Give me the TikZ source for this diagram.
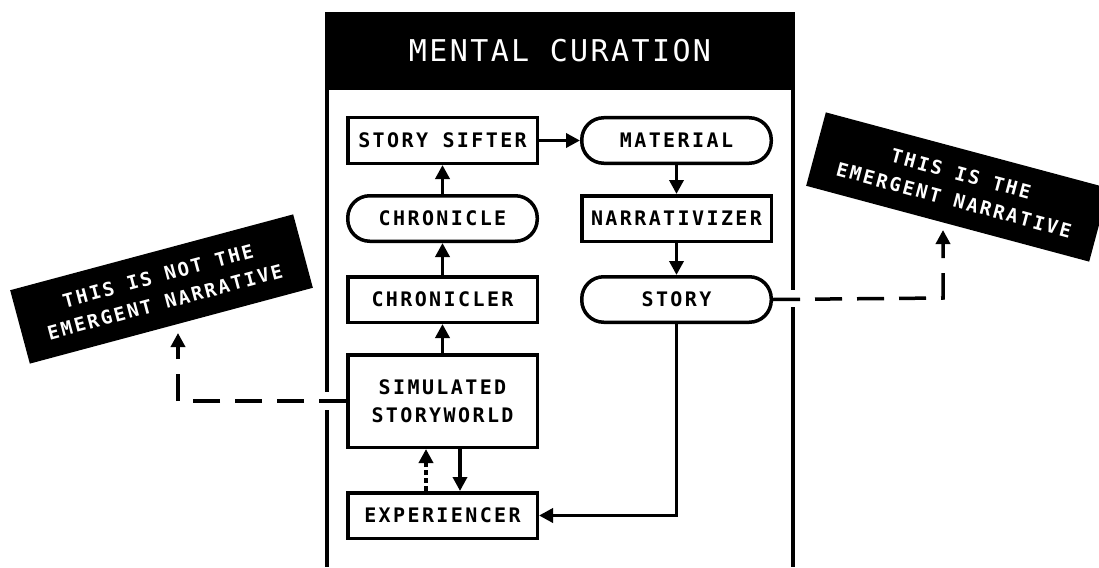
\documentclass[tikz,border=0pt]{standalone}
\usepackage{fontspec}
\usepackage{tikz}
\usetikzlibrary{positioning,arrows.meta}
\newfontfamily\boxfont[LetterSpace=12]{DejaVu Sans Mono Bold}
\newfontfamily\titlefont[LetterSpace=8]{DejaVu Sans Mono}

\begin{document}
\begin{tikzpicture} [x=1pt, y=-1pt,
	stage/.style={draw=black, line width=3.5pt, minimum width=189.5pt, minimum height=45.5pt, inner sep=0pt, align=center, font=\boxfont\fontsize{20}{28}\selectfont},
	heap/.style={stage, rounded corners=22pt},
	flow/.style={black, line width=3.5pt, -{Triangle[length=14pt,width=14pt]}},
	hint/.style={flow, dash pattern=on 27pt off 15pt},
	remark/.style={fill=black, text=white, minimum width=293pt, minimum height=76pt, inner sep=0pt, align=center, font=\boxfont\fontsize{19}{27}\selectfont}]
	\useasboundingbox (0,0) rectangle (1099,567);
	% frame
	\fill [black] (325,12) rectangle (795,90);
	\node [text=white, font=\titlefont\fontsize{30}{36}\selectfont] (title) at (560,51) {MENTAL CURATION};
	\draw [black, line width=3.5pt] (327,90)--(327,567);
	\draw [black, line width=3.5pt] (793,90)--(793,567);
	\fill [white] (320,392) rectangle (334,410);
	\fill [white] (786,290) rectangle (800,307);
	% boxes
	\node [stage] (sifter) at (442.5,140.5) {STORY SIFTER};
	\node [heap] (material) at (676.5,140.5) {MATERIAL};
	\node [heap] (chronicle) at (442.5,218.5) {CHRONICLE};
	\node [stage] (narrativizer) at (676.5,218.5) {NARRATIVIZER};
	\node [stage] (chronicler) at (442.5,299.5) {CHRONICLER};
	\node [heap] (story) at (676.5,299.5) {STORY};
	\node [stage, minimum height=92.5pt] (storyworld) at (442.5,401) {SIMULATED\\STORYWORLD};
	\node [stage] (experiencer) at (442.5,515.5) {EXPERIENCER};
	% arrows
	\draw [flow] (storyworld)--(chronicler);
	\draw [flow] (chronicler)--(chronicle);
	\draw [flow] (chronicle)--(sifter);
	\draw [flow] (sifter)--(material);
	\draw [flow] (material)--(narrativizer);
	\draw [flow] (narrativizer)--(story);
	\draw [flow] (story.south) |- (experiencer.east);
	\draw [flow] ([xshift=17.5pt]storyworld.south)--([xshift=17.5pt]experiencer.north);
	\draw [flow, dash pattern=on 5pt off 3pt] ([xshift=-16.5pt]experiencer.north)--([xshift=-16.5pt]storyworld.south);
	% labels
	\node [remark, rotate=15] (notlabel) at (161.5,289) {THIS IS NOT THE\\EMERGENT NARRATIVE};
	\node [remark, rotate=-15] (islabel) at (957.5,187) {THIS IS THE\\EMERGENT NARRATIVE};
	\coordinate (leftbend) at (178,401);
	\coordinate (lefttip) at (178,333);
	\coordinate (rightbend) at (943,298);
	\coordinate (righttip) at (943,230);
	\draw [hint] (storyworld.west)--(leftbend)--(lefttip);
	\draw [hint] (story.east)--(rightbend)--(righttip);
\end{tikzpicture}
\end{document}
